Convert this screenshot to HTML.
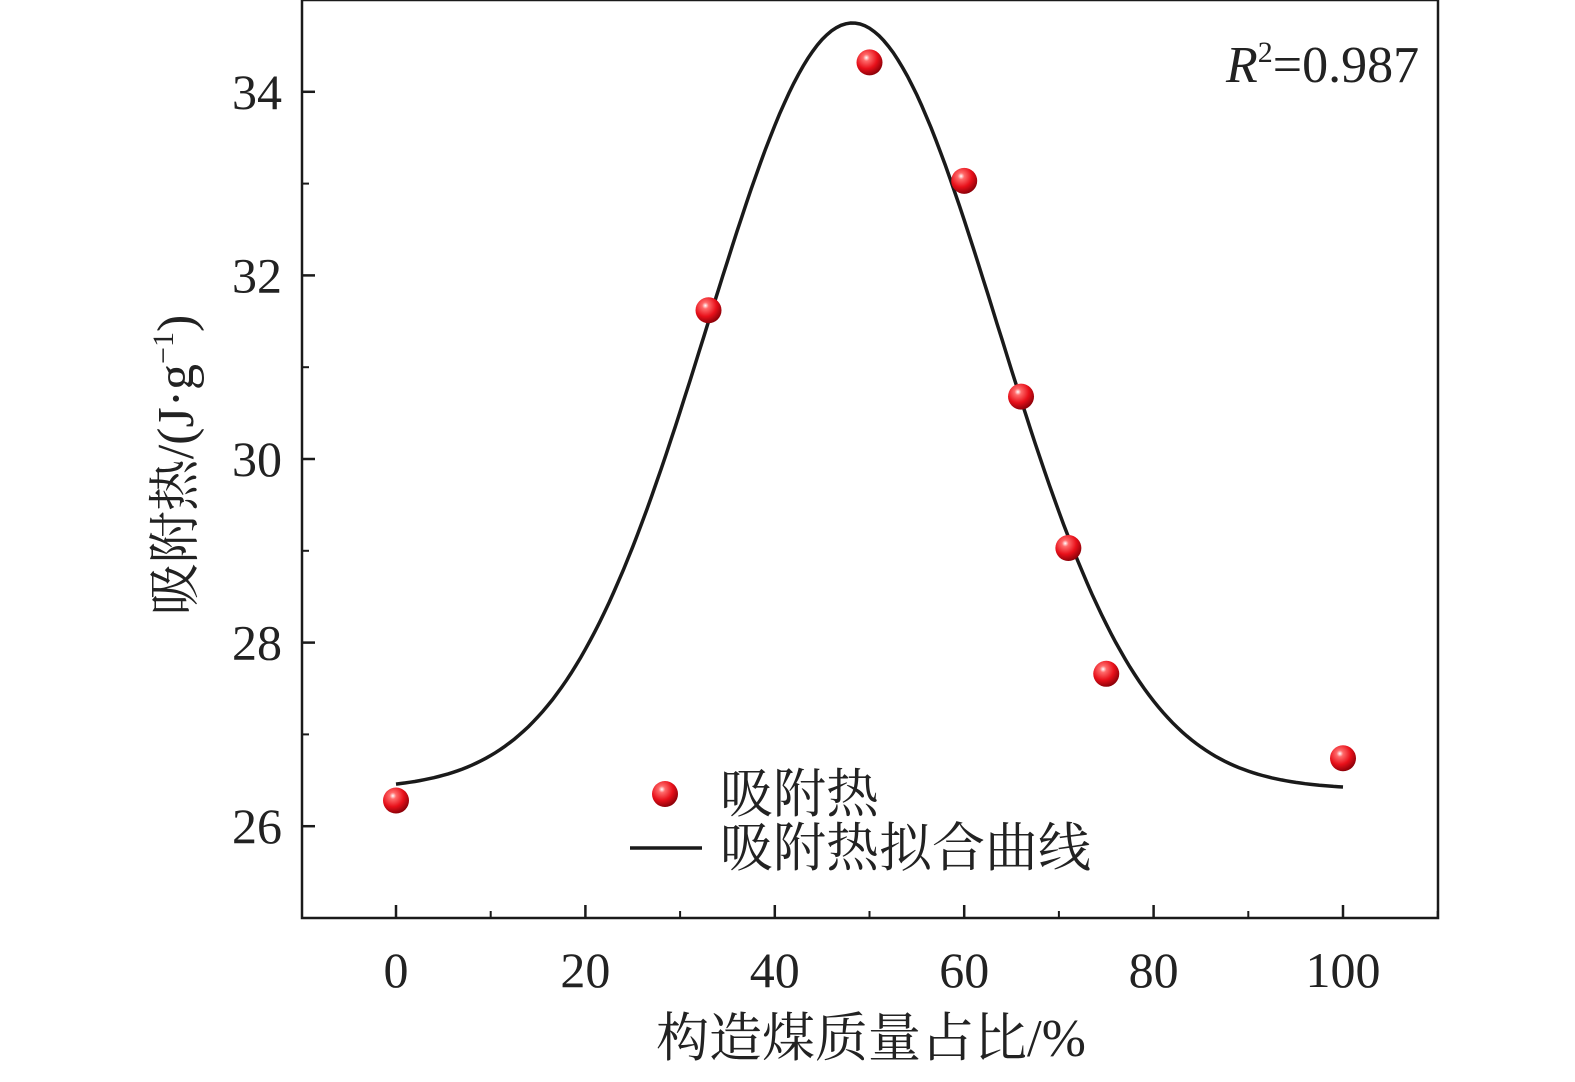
<!DOCTYPE html>
<html><head><meta charset="utf-8"><style>
body{margin:0;background:#fff}
svg text{font-family:"Liberation Serif","Noto Serif CJK SC",serif;fill:#222}
</style></head><body>
<svg id="chart" width="1575" height="1077" viewBox="0 0 1575 1077" xmlns="http://www.w3.org/2000/svg">
<defs>
<radialGradient id="ball" cx="0.38" cy="0.32" r="0.7">
<stop offset="0" stop-color="#fff"/><stop offset="0.18" stop-color="#ff6a6a"/><stop offset="0.6" stop-color="#e8101a"/><stop offset="1" stop-color="#8a0008"/>
</radialGradient>
</defs>
<g id="axes"></g>
<g id="marks"></g>
<text x="1226" y="82" font-size="52"><tspan font-style="italic">R</tspan><tspan font-size="30" dy="-20">2</tspan><tspan dy="20">=0.987</tspan></text>
<circle cx="665" cy="794" r="13" fill="url(#ball)"/>
<text x="720" y="812" font-size="53">吸附热</text>
<line x1="630" y1="848" x2="702" y2="848" stroke="#1a1a1a" stroke-width="3.5"/>
<text x="720" y="866" font-size="53">吸附热拟合曲线</text>
<text x="871" y="1056" font-size="53" text-anchor="middle">构造煤质量占比/%</text>
<text transform="translate(193,465) rotate(-90)" font-size="52" text-anchor="middle">吸附热/(J·g<tspan font-size="30" dy="-20">−1</tspan><tspan dy="20">)</tspan></text>
</svg>
<script>
const xValues=[0,33,50,60,66,71,75,100];
const yValues=[26.28,31.62,34.32,33.03,30.68,29.03,27.66,26.74];
const xTicks=[0,20,40,60,80,100];
const yTicks=[26,28,30,32,34];
const fitParams=[26.4,8.35,48.2,15.3]; // baseline, amplitude, center, sigma
const X0=302,X1=1438,Y0=0,Y1=918;
const sx=v=>396+(v-0)*(1343-396)/100;
const sy=v=>918-(v-25)*(918-0)/10;
const NS="http://www.w3.org/2000/svg";
const axes=document.getElementById('axes'),marks=document.getElementById('marks');
function mk(t,a,p){const e=document.createElementNS(NS,t);for(const k in a)e.setAttribute(k,a[k]);p.appendChild(e);return e;}
const frame=mk('rect',{x:X0,y:Y0,width:X1-X0,height:Y1-Y0,fill:'none',stroke:'#1a1a1a','stroke-width':2.5},axes);


xTicks.forEach(t=>{
 const l=mk('line',{x1:sx(t),x2:sx(t),y1:Y1,y2:Y1-13,stroke:'#1a1a1a','stroke-width':2.5},axes);
 
 
 const m=mk('line',{x1:sx(t+10),x2:sx(t+10),y1:Y1,y2:Y1-7,stroke:'#1a1a1a','stroke-width':2},axes);
 
 
 const tx=mk('text',{x:sx(t),y:987,'font-size':50,'text-anchor':'middle'},axes);tx.textContent=t;
 
 
});
yTicks.forEach(t=>{
 const l=mk('line',{x1:X0,x2:X0+13,y1:sy(t),y2:sy(t),stroke:'#1a1a1a','stroke-width':2.5},axes);
 
 
 const m=mk('line',{x1:X0,x2:X0+7,y1:sy(t+1),y2:sy(t+1),stroke:'#1a1a1a','stroke-width':2},axes);
 
 
 const tx=mk('text',{x:282,y:sy(t)+17,'font-size':50,'text-anchor':'end'},axes);tx.textContent=t;
 
 
});
const [b,A,c,s]=fitParams;let d='';
for(let x=0;x<=100;x+=0.5){const y=b+A*Math.exp(-((x-c)**2)/(2*s*s));d+=(x?'L':'M')+sx(x).toFixed(1)+','+sy(y).toFixed(1);}
const p=mk('path',{d:d,fill:'none',stroke:'#1a1a1a','stroke-width':3.5},marks);


xValues.forEach((x,i)=>{
 const ci=mk('circle',{cx:sx(x),cy:sy(yValues[i]),r:13,fill:'url(#ball)'},marks);
 
 
});
</script>
</body></html>
